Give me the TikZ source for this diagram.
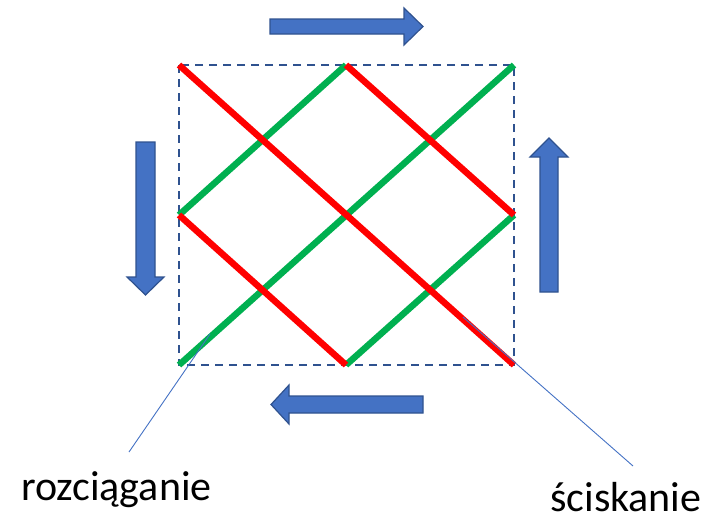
\documentclass[tikz,border=0pt]{standalone}
\usepackage{fontspec}
\setmainfont{Carlito}
\definecolor{sqblue}{RGB}{47,82,143}
\definecolor{arrfill}{RGB}{68,114,196}
\definecolor{linblue}{RGB}{68,114,196}
\definecolor{redl}{RGB}{255,0,0}
\definecolor{greenl}{RGB}{0,176,80}
\tikzset{
  frame/.style={draw=sqblue, line width=2pt, dash pattern=on 8pt off 6pt},
  tens/.style={draw=greenl, line width=6.5pt},
  comp/.style={draw=redl, line width=6.5pt},
  fat/.style={fill=arrfill, draw=sqblue, line width=1.2pt, line join=miter},
  leader/.style={draw=linblue, line width=0.9pt},
  lbl/.style={font=\fontsize{42}{48}\selectfont, inner sep=0pt, anchor=base west}
}
\begin{document}
\begin{tikzpicture}[x=1pt,y=-1pt]
\useasboundingbox (0,0) rectangle (720,520);
% corners and midpoints
\coordinate (tl) at (179,65);
\coordinate (tm) at (346,65);
\coordinate (tr) at (514,65);
\coordinate (ml) at (179,215);
\coordinate (mr) at (514,215);
\coordinate (bl) at (179,365);
\coordinate (bm) at (346,365);
\coordinate (br) at (514,365);
% dashed frame
\draw[frame] (tl) rectangle (br);
% green lines
\draw[tens] (bl) -- (tr);
\draw[tens] (ml) -- (tm);
\draw[tens] (bm) -- (mr);
% red lines
\draw[comp] (tl) -- (br);
\draw[comp] (tm) -- (mr);
\draw[comp] (ml) -- (bm);
% block arrows
\draw[fat] (270,19) -- (404,19) -- (404,8) -- (423,26.5) -- (404,45) -- (404,34) -- (270,34) -- cycle;
\draw[fat] (423,396) -- (289,396) -- (289,385) -- (271,404.5) -- (289,424) -- (289,413) -- (423,413) -- cycle;
\draw[fat] (136,142) -- (136,277) -- (127,277) -- (145.5,295) -- (164,277) -- (155,277) -- (155,142) -- cycle;
\draw[fat] (540,292) -- (540,157) -- (530,157) -- (549,138) -- (568,157) -- (558,157) -- (558,292) -- cycle;
% labels
\node[lbl] (rozc) at (21,500) {rozciąganie};
\node[lbl, text depth=0pt] (scis) at (550,511) {ściskanie};
\coordinate (rtop) at (210,334);
\coordinate (rbot) at (129,452);
\coordinate (stop) at (463,317);
\coordinate (sbot) at (633,466);
\draw[leader] (rtop) -- (rbot);
\draw[leader] (stop) -- (sbot);
\end{tikzpicture}
\end{document}
